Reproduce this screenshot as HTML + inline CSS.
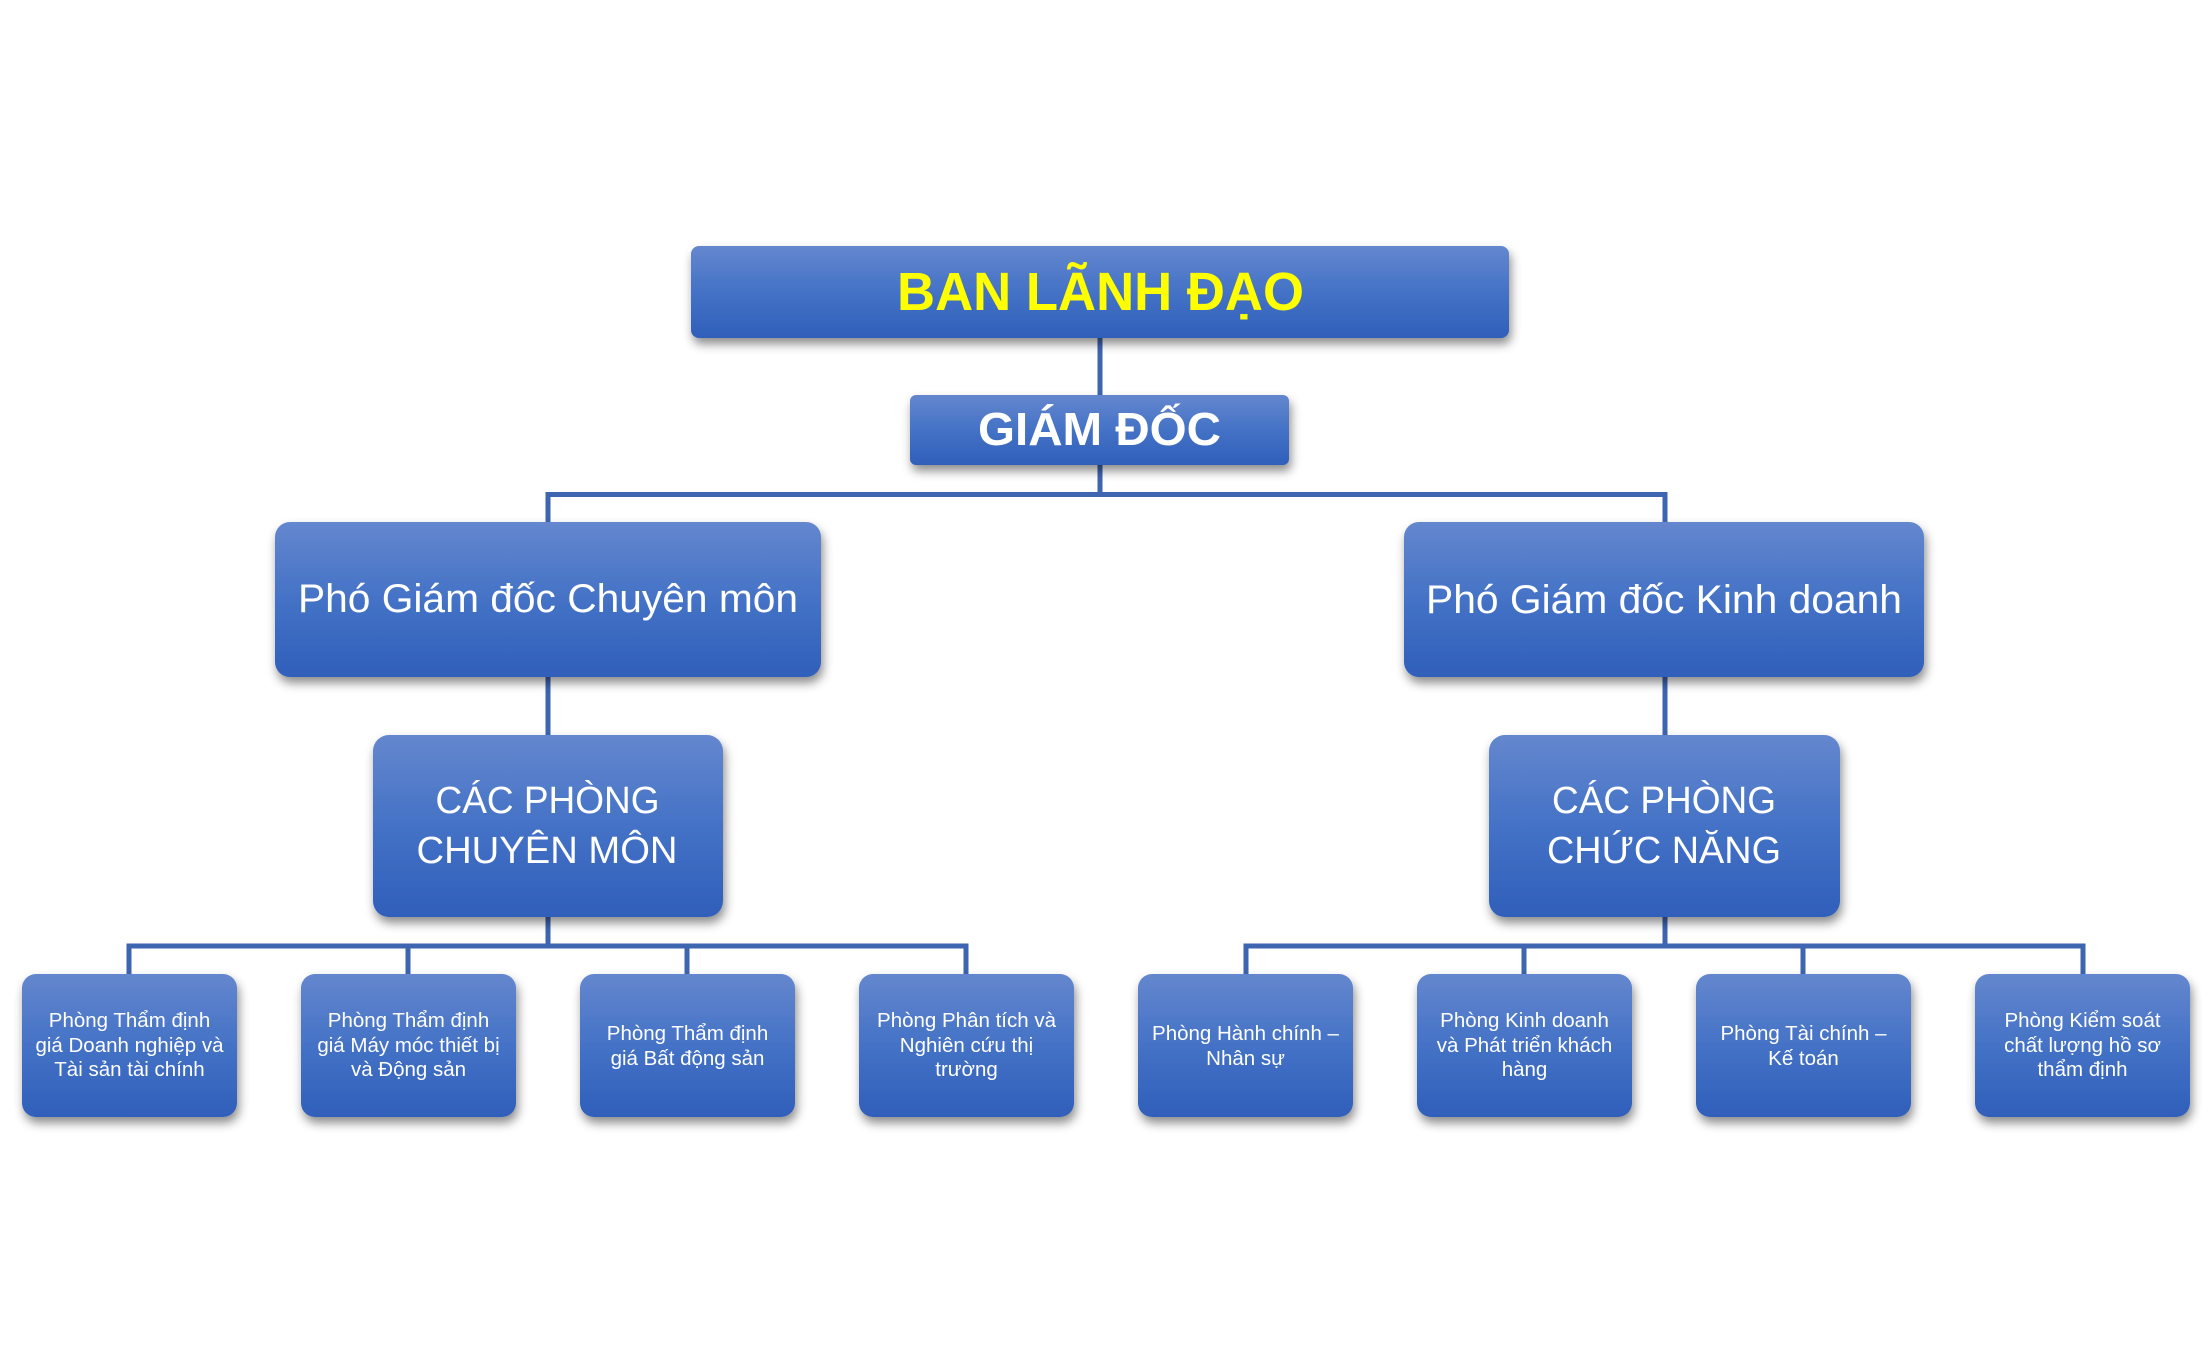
<!DOCTYPE html>
<html>
<head>
<meta charset="utf-8">
<style>
  html, body { margin:0; padding:0; background:#ffffff; }
  svg { display:block; }
  text { font-family: "Liberation Sans", "DejaVu Sans", sans-serif; fill:#ffffff; text-anchor:middle; }
</style>
</head>
<body>
<svg width="2211" height="1364" viewBox="0 0 2211 1364" xmlns="http://www.w3.org/2000/svg">
  <defs>
    <linearGradient id="g" x1="0" y1="0" x2="0" y2="1">
      <stop offset="0" stop-color="#6487CE"/>
      <stop offset="0.5" stop-color="#4472C6"/>
      <stop offset="1" stop-color="#2F5FBA"/>
    </linearGradient>
    <filter id="sh" x="-10%" y="-20%" width="120%" height="150%">
      <feDropShadow dx="2" dy="6" stdDeviation="5" flood-color="#000" flood-opacity="0.45"/>
    </filter>
  </defs>

  <!-- connectors -->
  <g stroke="#3D65B0" stroke-width="5" fill="none">
    <line x1="1100" y1="336" x2="1100" y2="497"/>
    <polyline points="548,524 548,494.5 1665,494.5 1665,524"/>
    <line x1="548" y1="675" x2="548" y2="737"/>
    <line x1="1665" y1="675" x2="1665" y2="737"/>
    <line x1="548" y1="915" x2="548" y2="948"/>
    <line x1="1665" y1="915" x2="1665" y2="948"/>
    <polyline points="129,976 129,946 966,946 966,976"/>
    <line x1="408" y1="946" x2="408" y2="976"/>
    <line x1="687" y1="946" x2="687" y2="976"/>
    <polyline points="1246,976 1246,946 2083,946 2083,976"/>
    <line x1="1524" y1="946" x2="1524" y2="976"/>
    <line x1="1803" y1="946" x2="1803" y2="976"/>
  </g>

  <!-- boxes -->
  <g fill="url(#g)" filter="url(#sh)">
    <rect x="691" y="246" width="818" height="92" rx="8"/>
    <rect x="910" y="395" width="379" height="70" rx="6"/>
    <rect x="275" y="522" width="546" height="155" rx="15"/>
    <rect x="1404" y="522" width="520" height="155" rx="15"/>
    <rect x="373" y="735" width="350" height="182" rx="16"/>
    <rect x="1489" y="735" width="351" height="182" rx="16"/>
    <rect x="22" y="974" width="215" height="143" rx="14"/>
    <rect x="301" y="974" width="215" height="143" rx="14"/>
    <rect x="580" y="974" width="215" height="143" rx="14"/>
    <rect x="859" y="974" width="215" height="143" rx="14"/>
    <rect x="1138" y="974" width="215" height="143" rx="14"/>
    <rect x="1417" y="974" width="215" height="143" rx="14"/>
    <rect x="1696" y="974" width="215" height="143" rx="14"/>
    <rect x="1975" y="974" width="215" height="143" rx="14"/>
  </g>

  <!-- main labels -->
  <text x="1100.5" y="310" font-size="54" font-weight="bold" style="fill:#FFFF00" textLength="407" lengthAdjust="spacingAndGlyphs">BAN LÃNH ĐẠO</text>
  <text x="1099.5" y="445" font-size="46" font-weight="bold" textLength="243" lengthAdjust="spacingAndGlyphs">GIÁM ĐỐC</text>
  <text x="548" y="612" font-size="40" textLength="500" lengthAdjust="spacingAndGlyphs">Phó Giám đốc Chuyên môn</text>
  <text x="1664" y="613" font-size="40" textLength="476" lengthAdjust="spacingAndGlyphs">Phó Giám đốc Kinh doanh</text>
  <text x="547.5" y="813" font-size="38" textLength="224" lengthAdjust="spacingAndGlyphs">CÁC PHÒNG</text>
  <text x="547" y="863" font-size="38" textLength="261" lengthAdjust="spacingAndGlyphs">CHUYÊN MÔN</text>
  <text x="1664" y="813" font-size="38" textLength="224" lengthAdjust="spacingAndGlyphs">CÁC PHÒNG</text>
  <text x="1664" y="863" font-size="38" textLength="234" lengthAdjust="spacingAndGlyphs">CHỨC NĂNG</text>

  <!-- leaf labels -->
  <g font-size="20.5">
    <text x="129.5" y="1027">Phòng Thẩm định</text>
    <text x="129.5" y="1052">giá Doanh nghiệp và</text>
    <text x="129.5" y="1076">Tài sản tài chính</text>

    <text x="408.5" y="1027">Phòng Thẩm định</text>
    <text x="408.5" y="1052">giá Máy móc thiết bị</text>
    <text x="408.5" y="1076">và Động sản</text>

    <text x="687.5" y="1040">Phòng Thẩm định</text>
    <text x="687.5" y="1065">giá Bất động sản</text>

    <text x="966.5" y="1027">Phòng Phân tích và</text>
    <text x="966.5" y="1052">Nghiên cứu thị</text>
    <text x="966.5" y="1076">trường</text>

    <text x="1245.5" y="1040">Phòng Hành chính –</text>
    <text x="1245.5" y="1065">Nhân sự</text>

    <text x="1524.5" y="1027">Phòng Kinh doanh</text>
    <text x="1524.5" y="1052">và Phát triển khách</text>
    <text x="1524.5" y="1076">hàng</text>

    <text x="1803.5" y="1040">Phòng Tài chính –</text>
    <text x="1803.5" y="1065">Kế toán</text>

    <text x="2082.5" y="1027">Phòng Kiểm soát</text>
    <text x="2082.5" y="1052">chất lượng hồ sơ</text>
    <text x="2082.5" y="1076">thẩm định</text>
  </g>
</svg>
</body>
</html>
